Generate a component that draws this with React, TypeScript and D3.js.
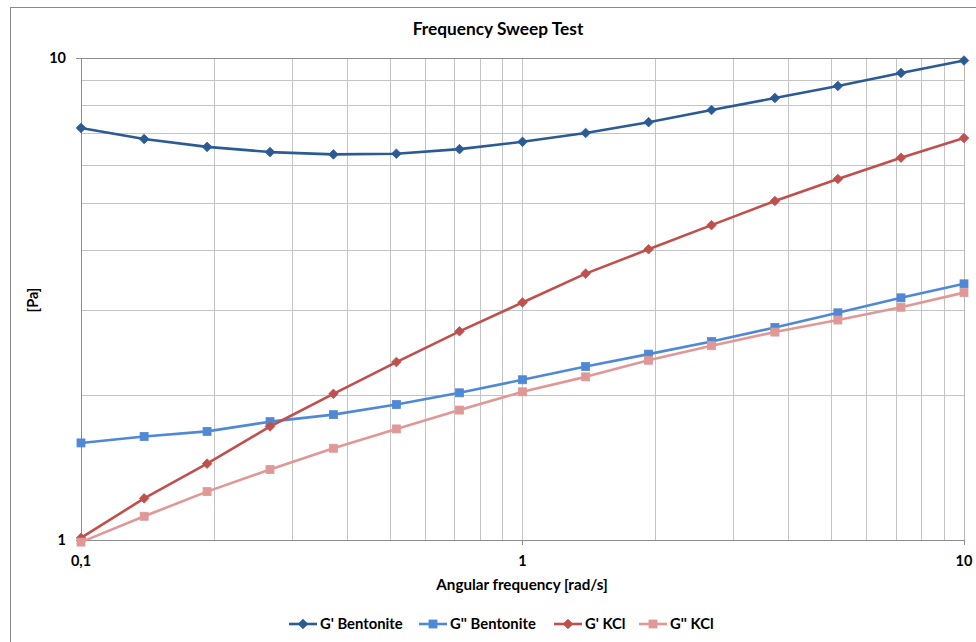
import React from "react";
import * as d3 from "d3";

const frequencies = [0.1, 0.139, 0.193, 0.268, 0.373, 0.518, 0.72, 1.0, 1.39, 1.93, 2.68, 3.73, 5.18, 7.2, 10];
const gPrimeBentonite = [7.16, 6.79, 6.54, 6.38, 6.31, 6.33, 6.47, 6.70, 6.99, 7.36, 7.80, 8.26, 8.75, 9.31, 9.88];
const gDoublePrimeBentonite = [1.59, 1.64, 1.68, 1.76, 1.82, 1.91, 2.02, 2.15, 2.29, 2.43, 2.58, 2.76, 2.96, 3.18, 3.40];
const gPrimeKCl = [1.01, 1.22, 1.44, 1.72, 2.01, 2.34, 2.71, 3.11, 3.57, 4.01, 4.50, 5.05, 5.61, 6.21, 6.82];
const gDoublePrimeKCl = [0.99, 1.12, 1.26, 1.40, 1.55, 1.70, 1.86, 2.03, 2.18, 2.36, 2.53, 2.70, 2.86, 3.04, 3.26];

const seriesNames = ["G' Bentonite", "G'' Bentonite", "G' KCl", "G'' KCl"];
const seriesValues = [gPrimeBentonite, gDoublePrimeBentonite, gPrimeKCl, gDoublePrimeKCl];
const seriesColors = ["#2a5b95", "#4f89d6", "#c0504d", "#e09896"];
const seriesMarkers = ["diamond", "square", "diamond", "square"];

const xTickLabels = ["0,1", "1", "10"];
const xTickValues = [0.1, 1, 10];
const yTickLabels = ["1", "10"];
const yTickValues = [1, 10];

const FONT = "Lato, 'Open Sans', sans-serif";

export default function App() {
  const W = 976, H = 642;
  const left = 81, right = 964, top = 58, bottom = 540;
  const x = d3.scaleLog().domain([0.1, 10]).range([left, right]);
  const y = d3.scaleLog().domain([1, 10]).range([bottom, top]);

  const xGrid: number[] = [];
  for (let d = 0.1; d < 10; d *= 10) for (let k = 1; k <= 9; k++) xGrid.push(d * k);
  const yGrid: number[] = [];
  for (let k = 2; k <= 9; k++) yGrid.push(k);

  const line = d3.line<number>().x((_, i) => x(frequencies[i])).y((v) => y(v));

  const marker = (type: string, cx: number, cy: number, color: string, key: string) => {
    if (type === "diamond") {
      const s = 4.8;
      return <path key={key} d={`M${cx},${cy - s}L${cx + s},${cy}L${cx},${cy + s}L${cx - s},${cy}Z`} fill={color} stroke={color} strokeWidth={0.8} />;
    }
    const s = 4;
    return <rect key={key} x={cx - s} y={cy - s} width={2 * s} height={2 * s} fill={color} stroke={color} strokeWidth={0.8} />;
  };

  const legendItems = [
    { lx: 289, tx: 320 },
    { lx: 419, tx: 450 },
    { lx: 554, tx: 585 },
    { lx: 639, tx: 670 },
  ];
  const ly = 624;

  return (
    <svg width={W} height={H} style={{ position: "absolute", left: 0, top: 0 }}>
      <rect x={0} y={0} width={W} height={H} fill="#fff" />
      <rect x={10.5} y={7.5} width={980} height={660} fill="none" stroke="#888" strokeWidth={1} />
      <text x={498} y={35} textAnchor="middle" fontFamily={FONT} fontWeight="bold" fontSize={17.3} fill="#000">Frequency Sweep Test</text>

      {xGrid.map((v, i) => (
        <line key={"xg" + i} x1={Math.round(x(v)) + 0.5} x2={Math.round(x(v)) + 0.5} y1={top} y2={bottom} stroke="#c4c4c4" strokeWidth={1} />
      ))}
      {yGrid.map((v, i) => (
        <line key={"yg" + i} x1={left} x2={right} y1={Math.round(y(v)) + 0.5} y2={Math.round(y(v)) + 0.5} stroke="#c4c4c4" strokeWidth={1} />
      ))}
      <line x1={left} x2={right + 0.5} y1={top + 0.5} y2={top + 0.5} stroke="#8c8c8c" />
      <line x1={right + 0.5} x2={right + 0.5} y1={top} y2={bottom} stroke="#b8b8b8" />
      <line x1={left + 0.5} x2={left + 0.5} y1={top} y2={bottom + 5} stroke="#8c8c8c" />
      <line x1={left - 4} x2={right + 0.5} y1={bottom + 0.5} y2={bottom + 0.5} stroke="#8c8c8c" />
      {yTickValues.map((v, i) => (
        <g key={"yt" + i}>
          <line x1={left - 5} x2={left} y1={Math.round(y(v)) + 0.5} y2={Math.round(y(v)) + 0.5} stroke="#8c8c8c" />
          <text x={66} y={y(v) + 5} textAnchor="end" fontFamily={FONT} fontWeight="bold" fontSize={14.5} fill="#000">{yTickLabels[i]}</text>
        </g>
      ))}
      {xTickValues.map((v, i) => (
        <g key={"xt" + i}>
          <line x1={Math.round(x(v)) + 0.5} x2={Math.round(x(v)) + 0.5} y1={bottom} y2={bottom + 5} stroke="#8c8c8c" />
          <text x={x(v)} y={566} textAnchor="middle" fontFamily={FONT} fontWeight="bold" fontSize={14.5} fill="#000">{xTickLabels[i]}</text>
        </g>
      ))}
      <text x={522} y={590} textAnchor="middle" fontFamily={FONT} fontWeight="bold" fontSize={15.2} fill="#000">Angular frequency [rad/s]</text>
      <text transform="translate(38,300) rotate(-90)" textAnchor="middle" fontFamily={FONT} fontWeight="bold" fontSize={14.5} fill="#000">[Pa]</text>

      {seriesValues.map((vals, si) => (
        <g key={"s" + si}>
          <path d={line(vals) || ""} fill="none" stroke={seriesColors[si]} strokeWidth={2.6} strokeLinejoin="round" />
          {vals.map((v, i) => marker(seriesMarkers[si], x(frequencies[i]), y(v), seriesColors[si], `m${si}-${i}`))}
        </g>
      ))}

      {legendItems.map((it, i) => (
        <g key={"lg" + i}>
          <line x1={it.lx} x2={it.lx + 28} y1={ly} y2={ly} stroke={seriesColors[i]} strokeWidth={2.6} />
          {marker(seriesMarkers[i], it.lx + 14, ly, seriesColors[i], "lm" + i)}
          <text x={it.tx} y={ly + 5} fontFamily={FONT} fontWeight="bold" fontSize={14.8} fill="#000">{seriesNames[i]}</text>
        </g>
      ))}
    </svg>
  );
}
